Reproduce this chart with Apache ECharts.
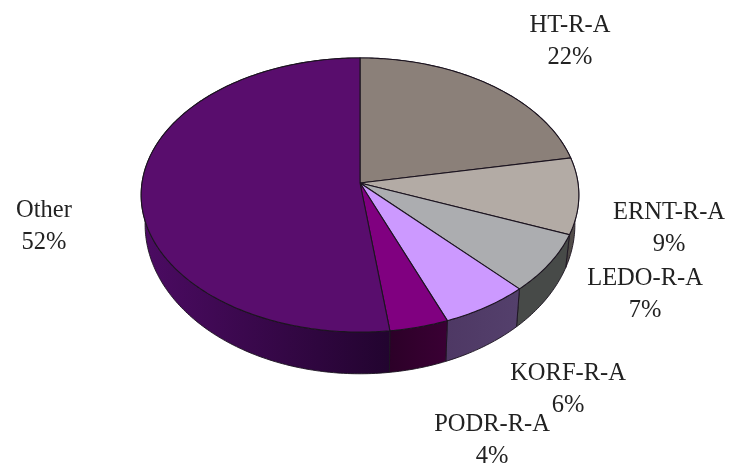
<!DOCTYPE html>
<html><head><meta charset="utf-8">
<script src="https://cdn.jsdelivr.net/npm/echarts@6/dist/echarts.min.js"></script>
<style>html,body{margin:0;padding:0;background:#fff}#c{width:732px;height:466px}</style>
</head><body><div id="c"></div>
<script>
const categories = ['HT-R-A','ERNT-R-A','LEDO-R-A','KORF-R-A','PODR-R-A','Other'];
const values = [22, 9, 7, 6, 4, 52];
const topColors = ['#8b8079','#b3aba5','#acadb0','#cc99ff','#800080','#590d6d'];
const wallFrom = ['#463f3c','#5c5653','#474a48','#54406c','#3a0034','#22042f'];
const wallTo   = ['#463f3c','#4a4542','#474a48','#4e3864','#2c0028','#4c0b63'];
const labelCentres = [[570,42],[669,229],[645,295],[568,390],[492,441],[44,227]];
const total = values.reduce((a,b)=>a+b,0);
const starts = []; values.reduce((s,v,i)=>(starts[i]=s,s+v),0);

// perspective disc projection
const C = {x:360,y:183,a:218,b:136,k:0.0876,sx:0.982,sy:1.09,dy:28.3};
function rimBase(t){const u=Math.sin(t),v=-Math.cos(t),w=1-C.k*v;return [C.a*u/w,C.b*v/w];}
function rimTop(t){const p=rimBase(t);return [C.x+p[0],C.y+p[1]];}
function rimBot(t){const p=rimBase(t);return [C.x+p[0]*C.sx,C.y+p[1]*C.sy+C.dy];}
function range(i){const a=starts[i]/total*2*Math.PI,b=(starts[i]+values[i])/total*2*Math.PI;return [a,b];}
function arc(fn,a,b){const n=Math.max(4,Math.ceil((b-a)/0.015)),o=[];for(let j=0;j<=n;j++)o.push(fn(a+(b-a)*j/n));return o;}
const lineCol='#1c1420';

const chart = echarts.init(document.getElementById('c'),null,{renderer:'canvas'});
const data = categories.map((n,i)=>({name:n,value:values[i]}));
chart.setOption({
  animation:false,
  series:[
    {type:'custom',coordinateSystem:'none',z:1,silent:true,data,
     renderItem(p){const i=p.dataIndex,[a,b]=range(i);
       const pts=arc(rimTop,a,b).concat(arc(rimBot,a,b).reverse());
       return {type:'polygon',shape:{points:pts},style:{
         fill:{type:'linear',x:0,y:0,x2:1,y2:0,colorStops:[{offset:0,color:wallTo[i]},{offset:1,color:wallFrom[i]}]},
         stroke:lineCol,lineWidth:0.9}};
     }},
    {type:'custom',coordinateSystem:'none',z:2,silent:true,data,
     renderItem(p){const i=p.dataIndex,[a,b]=range(i);
       const pts=[[C.x,C.y]].concat(arc(rimTop,a,b));
       return {type:'polygon',shape:{points:pts},style:{fill:topColors[i],stroke:lineCol,lineWidth:1.1}};
     }},
    {type:'custom',coordinateSystem:'none',z:3,silent:true,data,
     renderItem(p){const i=p.dataIndex;
       return {type:'text',x:labelCentres[i][0],y:labelCentres[i][1],style:{
         text:categories[i]+'\n'+Math.round(values[i]/total*100)+'%',
         align:'center',verticalAlign:'middle',lineHeight:32,
         font:'24.5px "Liberation Serif"',fill:'#222'}};
     }}
  ]
});
</script></body></html>
